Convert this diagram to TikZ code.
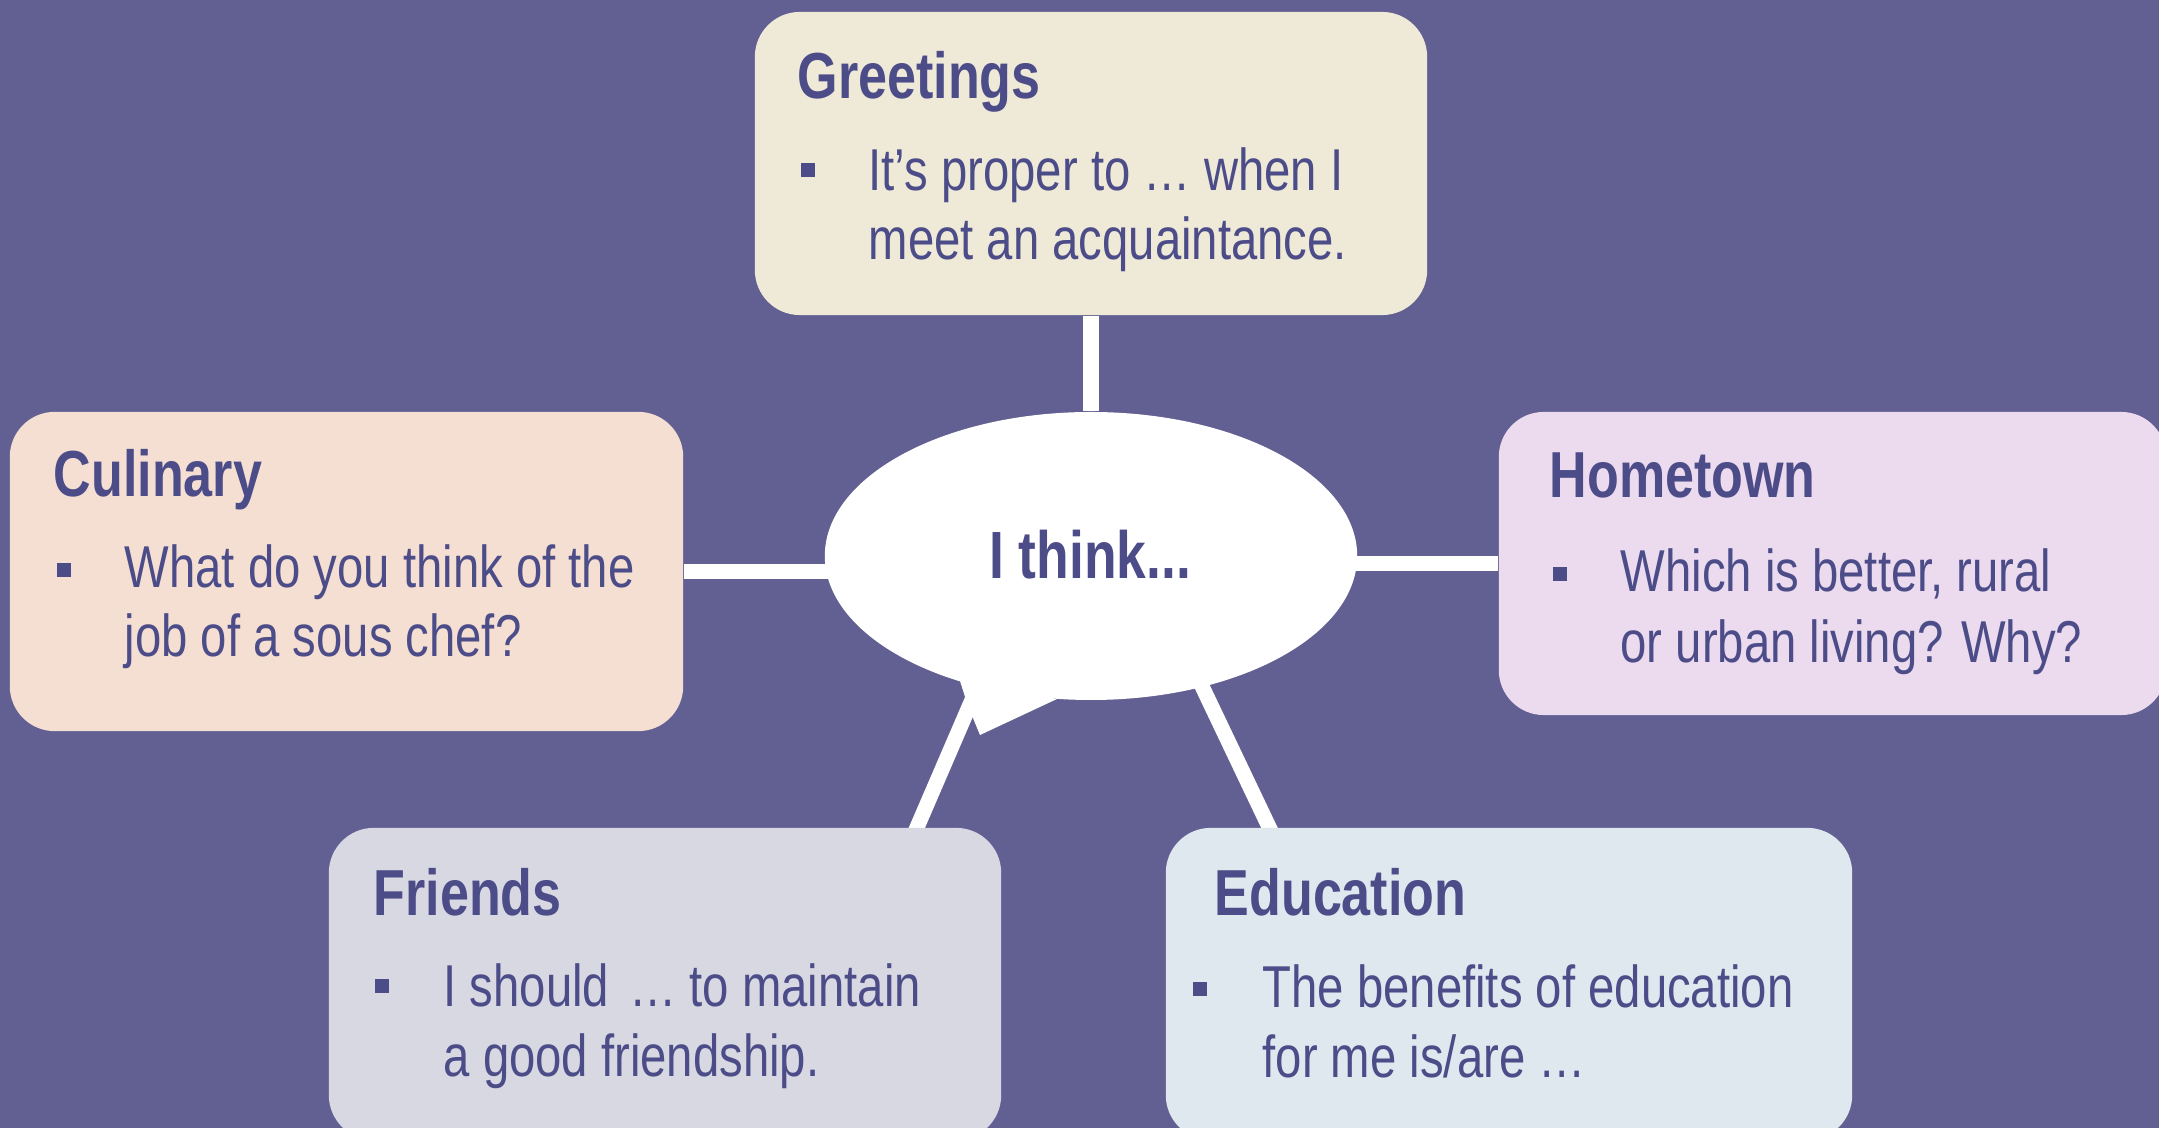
\documentclass[tikz,border=0pt]{standalone}
\usepackage{fontspec}
\setmainfont{Liberation Sans}[FakeStretch=0.8]
\usepackage{tikz}
\usetikzlibrary{shapes.geometric,backgrounds}

\definecolor{bgpurple}{HTML}{625F92}
\definecolor{ink}{HTML}{4B4C88}
\definecolor{greetcol}{HTML}{EFE9D8}
\definecolor{culcol}{HTML}{F5DFD3}
\definecolor{homecol}{HTML}{ECDAEE}
\definecolor{friendcol}{HTML}{D8D8E3}
\definecolor{educol}{HTML}{DFE8EF}

\begin{document}
\begin{tikzpicture}[x=0.01cm,y=-0.01cm,
	box/.style={rectangle,rounded corners=12.8pt,inner sep=0pt},
	title/.style={anchor=base west,inner sep=0pt,text=ink,font=\fontsize{18.5}{22}\selectfont\bfseries},
	item/.style={anchor=base west,inner sep=0pt,text=ink,font=\fontsize{16.8}{20}\selectfont},
	bullet/.style={rectangle,fill=ink,inner sep=0pt,minimum size=4.2pt},
	link/.style={draw=white,line width=4.27pt}]
					\useasboundingbox (0,0) rectangle (2159,1128);
					\clip (0,0) rectangle (2159,1128);
					% centre bubble
					\node (think) [ellipse,fill=white,inner sep=0pt,minimum width=151.4pt,minimum height=81.9pt] at (1091,556) {};
					\fill[white] (960,681) -- (968,706) -- (980,735) -- (1057,699) -- cycle;
					\node (tk) [anchor=base,inner sep=0pt,text=ink,font=\fontsize{19}{22}\selectfont\bfseries] at (1090,579) {I think...};
					% Greetings
					\node (greet) [box,fill=greetcol,minimum width=191.2pt,minimum height=86.2pt] at (1091,163.5) {};
					\node (gt) [title] at (797,99) {Greetings};
					\node (gb) [bullet] at (808,170) {};
					\node (g1) [item] at (868,191) {It’s proper to … when I};
					\node (g2) [item] at (868,260) {meet an acquaintance.};
					% Culinary
					\node (cul) [box,fill=culcol,minimum width=191.5pt,minimum height=90.8pt] at (346.5,571.5) {};
					\node (ct) [title] at (53,497) {Culinary};
					\node (cb) [bullet] at (64,570) {};
					\node (c1) [item] at (124,588) {What do you think of the};
					\node (c2) [item] at (124,657) {job of a sous chef?};
					% Hometown
					\node (home) [box,fill=homecol,minimum width=189.8pt,minimum height=86.2pt] at (1832.5,563.5) {};
					\node (ht) [title] at (1549,498) {Hometown};
					\node (hb) [bullet] at (1560,574) {};
					\node (h1) [item] at (1620,592) {Which is better, rural};
					\node (h2) [item] at (1620,663) {or urban living? Why?};
					% Friends
					\node (friends) [box,fill=friendcol,minimum width=191.2pt,minimum height=88.8pt] at (665,984) {};
					\node (ft) [title] at (373,916) {Friends};
					\node (fb) [bullet] at (382,986) {};
					\node (f1) [item] at (443,1007) {I should\hspace{2pt} … to maintain};
					\node (f2) [item] at (443,1077) {a good friendship.};
					% Education
					\node (edu) [box,fill=educol,minimum width=195.2pt,minimum height=88.8pt] at (1509,984) {};
					\node (et) [title] at (1214,916) {Education};
					\node (eb) [bullet] at (1200,989) {};
					\node (e1) [item] at (1262,1008) {The benefits of education};
					\node (e2) [item] at (1262,1078) {for me is/are …};
					% links behind the boxes
					\begin{scope}[on background layer]
					\fill[bgpurple] (0,0) rectangle (2159,1128);
					\draw[link] (greet) -- (think);
					\draw[link] (cul.east) -- (cul.east -| think.center);
					\draw[link] (home.west) -- (home.west -| think.center);
					\draw[link] (think.center) ++(-57,0) -- ++(-125,290);
					\draw[link] (think.center) ++(49,0) -- ++(140,294);
					\end{scope}
				\end{tikzpicture}
\end{document}
